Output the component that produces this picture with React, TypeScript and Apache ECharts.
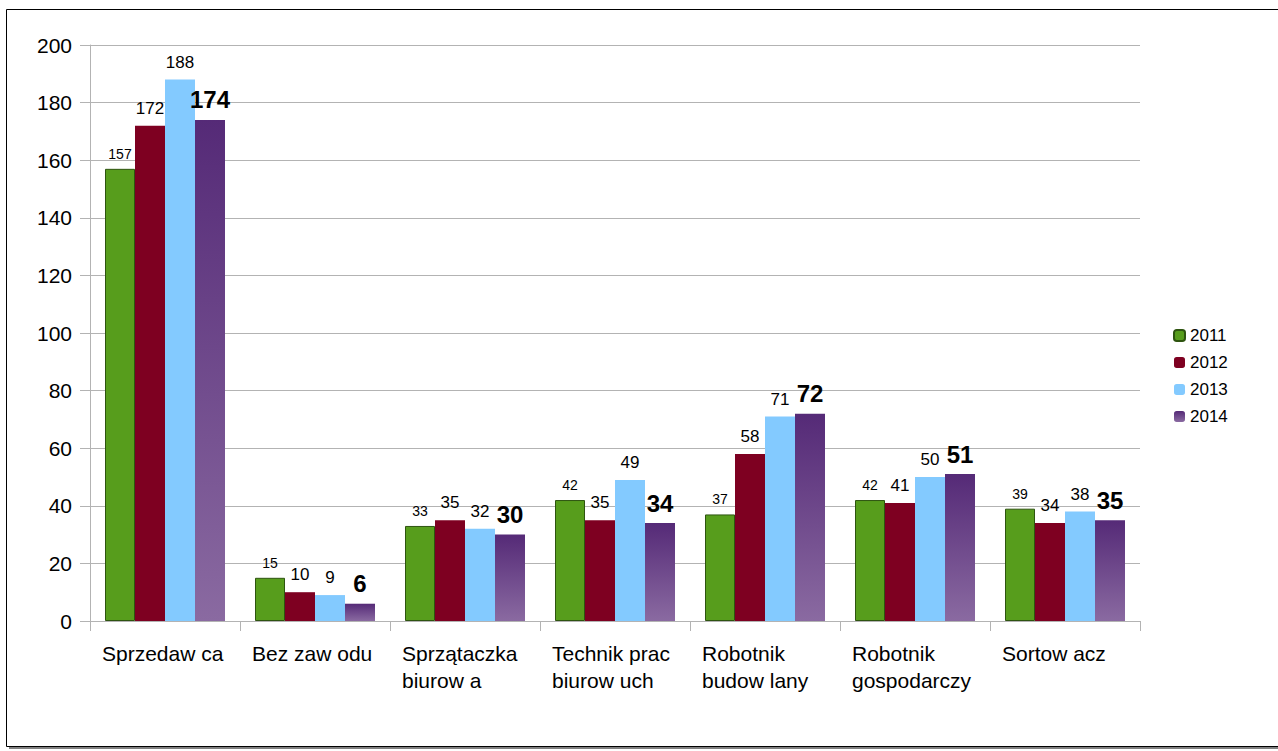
import React, { useEffect, useRef } from "react";
import * as echarts from "echarts";

const categories = [
  "Sprzedaw ca",
  "Bez zaw odu",
  "Sprzątaczka\nbiurow a",
  "Technik prac\nbiurow uch",
  "Robotnik\nbudow lany",
  "Robotnik\ngospodarczy",
  "Sortow acz",
];
const years = ["2011", "2012", "2013", "2014"];
const v2011 = [157, 15, 33, 42, 37, 42, 39];
const v2012 = [172, 10, 35, 35, 58, 41, 34];
const v2013 = [188, 9, 32, 49, 71, 50, 38];
const v2014 = [174, 6, 30, 34, 72, 51, 35];
const yTicks = [0, 20, 40, 60, 80, 100, 120, 140, 160, 180, 200];

const FONT = "'Liberation Sans', Arial, sans-serif";

export default function App() {
  const ref = useRef<HTMLDivElement>(null);
  useEffect(() => {
    if (!ref.current) return;
    const chart = echarts.init(ref.current, undefined, { renderer: "svg" });
    const baseLabel = {
      show: true,
      position: "top",
      color: "#000",
      fontFamily: FONT,
    };
    const labels = [
      { ...baseLabel, fontSize: 14, distance: 8 },
      { ...baseLabel, fontSize: 17, distance: 9 },
      { ...baseLabel, fontSize: 17, distance: 9 },
      { ...baseLabel, fontSize: 24, fontWeight: "bold", distance: 8 },
    ];
    const purple = new echarts.graphic.LinearGradient(0, 0, 0, 1, [
      { offset: 0, color: "#552A77" },
      { offset: 1, color: "#8A6AA1" },
    ]);
    const seriesData = [v2011, v2012, v2013, v2014];
    const styles = [
      { color: "#579D1C", borderColor: "#2E5410", borderWidth: 1 },
      { color: "#7E0021" },
      { color: "#83CAFF" },
      { color: purple },
    ];
    chart.setOption({
      animation: false,
      backgroundColor: "transparent",
      textStyle: { fontFamily: FONT },
      graphic: [
        {
          type: "rect",
          shape: { x: 9, y: 12, width: 1290, height: 737 },
          style: { fill: "#808080" },
          z: -10,
        },
        {
          type: "rect",
          shape: { x: 6.5, y: 9.5, width: 1290, height: 737 },
          style: { fill: "#fff", stroke: "#000", lineWidth: 1 },
          z: -9,
        },
      ],
      grid: { left: 90, right: 138, top: 45, bottom: 130, containLabel: false },
      legend: {
        orient: "vertical",
        left: 1173,
        top: 327,
        padding: 0,
        itemWidth: 11,
        itemHeight: 11,
        itemGap: 10,
        data: years,
        textStyle: { fontSize: 17, lineHeight: 17, color: "#000", fontFamily: FONT },
      },
      xAxis: {
        type: "category",
        data: categories,
        axisLine: { show: true, lineStyle: { color: "#b3b3b3" } },
        axisTick: { show: true, length: 10, lineStyle: { color: "#b3b3b3" } },
        axisLabel: {
          margin: 19,
          interval: 0,
          color: "#000",
          fontSize: 21,
          lineHeight: 27,
          fontFamily: FONT,
          formatter: (v: string) =>
            v
              .split("\n")
              .map((l) => `{a|${l}}`)
              .join("\n"),
          rich: {
            a: {
              width: 126,
              align: "left",
              fontSize: 21,
              lineHeight: 27,
              color: "#000",
              fontFamily: FONT,
            },
          },
        },
        splitLine: { show: false },
      },
      yAxis: {
        type: "value",
        min: 0,
        max: 200,
        interval: 20,
        axisLine: { show: true, lineStyle: { color: "#b3b3b3" } },
        axisTick: { show: true, length: 10, lineStyle: { color: "#b3b3b3" } },
        axisLabel: {
          margin: 18,
          color: "#000",
          fontSize: 21,
          fontFamily: FONT,
          formatter: (v: number) => (yTicks.includes(v) ? String(v) : ""),
        },
        splitLine: { show: true, lineStyle: { color: "#b3b3b3" } },
      },
      series: years.map((y, i) => ({
        name: y,
        type: "bar",
        data: seriesData[i],
        barGap: "0%",
        barCategoryGap: "20%",
        itemStyle: styles[i],
        label: labels[i],
      })),
    });
    return () => chart.dispose();
  }, []);
  return (
    <div
      ref={ref}
      style={{ position: "fixed", left: 0, top: 0, width: 1278, height: 751, background: "#fff" }}
    />
  );
}
